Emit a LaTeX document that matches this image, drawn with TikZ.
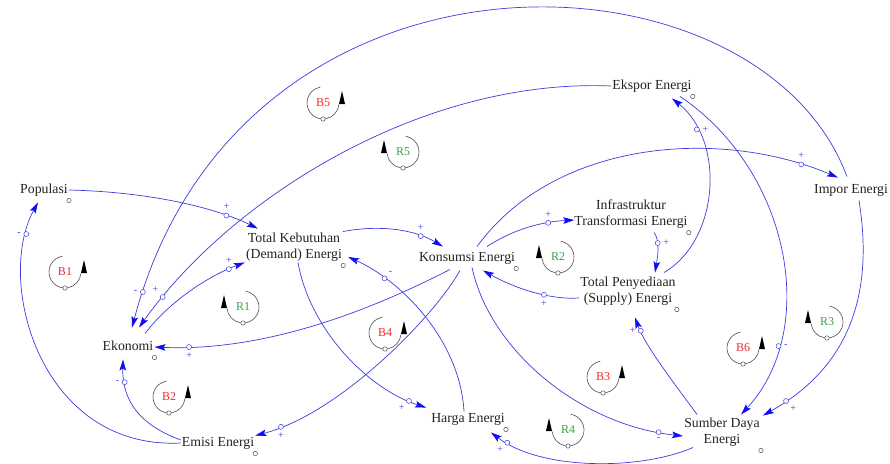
\documentclass[tikz,border=0pt]{standalone}
\usepackage{fontspec}
\setmainfont{Liberation Serif}
\usepackage{tikz}
\usetikzlibrary{arrows.meta,calc}
\definecolor{linkBlue}{RGB}{60,60,225}
\definecolor{tipBlue}{RGB}{15,15,240}
\definecolor{loopRed}{RGB}{235,45,45}
\definecolor{loopGreen}{RGB}{60,160,70}
\definecolor{loopGray}{RGB}{80,80,80}
\definecolor{varText}{RGB}{35,35,35}

\begin{document}
\begin{tikzpicture}[x=1pt,y=-1pt,
    var/.style={font=\fontsize{13.8}{16}\selectfont, text=varText, inner sep=1pt, text height=9.5pt, text depth=3pt},
    varm/.style={font=\fontsize{13.8}{16}\selectfont, text=varText, inner sep=1pt, align=center},
    lnk/.style={draw=linkBlue, line width=0.7pt, -{Stealth[length=11pt,width=6.5pt,inset=2pt,color=tipBlue]}},
    hnd/.style={circle, draw=linkBlue, fill=white, line width=0.5pt, inner sep=0pt, minimum size=5pt},
    sgn/.style={font=\fontsize{10}{10}\selectfont, text=linkBlue, inner sep=1pt},
    vdot/.style={draw=loopGray, fill=white, line width=0.5pt},
    loopc/.style={draw=loopGray, line width=0.6pt},
    looplbl/.style={font=\fontsize{12}{12}\selectfont, inner sep=0pt},
    label distance=1.5pt]
  \useasboundingbox (0,0) rectangle (890,463);
  \fill[white] (0,0) rectangle (890,463);

  % Variables
  \node[var] (pop) at (44,190) {Populasi};
  \node[varm] (tke) at (294,247) {Total Kebutuhan\\(Demand) Energi};
  \node[var] (kons) at (467,258) {Konsumsi Energi};
  \node[varm] (infra) at (631,214) {Infrastruktur\\Transformasi Energi};
  \node[varm] (tpe) at (628,291) {Total Penyediaan\\(Supply) Energi};
  \node[var] (ekspor) at (652,86) {Ekspor Energi};
  \node[var] (impor) at (851,190) {Impor Energi};
  \node[var] (ekon) at (128,347) {Ekonomi};
  \node[var] (emisi) at (218,443) {Emisi Energi};
  \node[var] (harga) at (468,419) {Harga Energi};
  \node[varm] (sumber) at (722,432) {Sumber Daya\\Energi};

  % Small markers beside the variable names
  \foreach \v in {pop,tke,kons,infra,tpe,ekspor,ekon,emisi,harga,sumber}
    \draw[vdot] ([shift={(0,3)}]\v.south east) circle (2.2);

  % Causal links
  \draw[lnk] (pop.east) .. controls +(81,2) and +(-43,-21) .. ([shift={(13,-3)}]tke.north west)
    node[hnd,pos=.78,label={[sgn]above:+}] (h1) {};
  \draw[lnk] (emisi.west) .. controls +(-141,7) and +(-43,78) .. ([shift={(-6,5)}]pop.south)
    node[hnd,pos=.88,label={[sgn]left:-}] (h2) {};
  \draw[lnk] ([shift={(0,-3)}]emisi.west) .. controls +(-41,-15) and +(-1,41) .. ([shift={(-5,5)}]ekon.south)
    node[hnd,pos=.8,label={[sgn]left:-}] (h3) {};
  \draw[lnk] ([shift={(-7,5)}]kons.south) .. controls +(-25,45) and +(85,-22) .. (emisi.north east)
    node[hnd,pos=.9,label={[sgn]below:+}] (h4) {};
  \draw[lnk] ([shift={(-17,4)}]kons.south) .. controls +(-70,36) and +(116,5) .. (ekon.east)
    node[hnd,pos=.9,label={[sgn]below:+}] (h5) {};
  \draw[lnk] ([shift={(17,-6)}]ekon.north) .. controls +(25,-33) and +(-35,13) .. (tke.south west)
    node[hnd,pos=.85,label={[sgn]above:+}] (h6) {};
  \draw[lnk] ([shift={(34,-6)}]impor.north west) .. controls +(-88,-237) and +(108,-408) .. ([shift={(4,-12)}]ekon.north)
    node[hnd,pos=.97,label={[sgn]left:-}] (h7) {};
  \draw[lnk] (ekspor.west) .. controls +(-191,-8) and +(91,-128) .. ([shift={(11,-12)}]ekon.north)
    node[hnd,pos=.92,label={[sgn]above left:+}] (h8) {};
  \draw[lnk] (tke.north east) .. controls +(37,-7) and +(-28,-17) .. ([shift={(25,-4)}]kons.north west)
    node[hnd,pos=.75,label={[sgn]above:+}] (h9) {};
  \draw[lnk] ([shift={(-4,0)}]harga.north) .. controls +(-4,-72) and +(52,23) .. ([shift={(5,10)}]tke.east)
    node[hnd,pos=.77,label={[sgn]above right:-}] (h10) {};
  \draw[lnk] ([shift={(4,0)}]tke.south) .. controls +(12,68) and +(-57,-18) .. ([shift={(-4,-4)}]harga.north west)
    node[hnd,pos=.9,label={[sgn]below left:+}] (h11) {};
  \draw[lnk] ([shift={(10,0)}]sumber.south west) .. controls +(-53,23) and +(50,38) .. ([shift={(-15,6)}]harga.south east)
    node[hnd,pos=.9,label={[sgn]below left:+}] (h12) {};
  \draw[lnk] ([shift={(5,2)}]kons.south) .. controls +(18,83) and +(-103,-11) .. ([shift={(0,4)}]sumber.west)
    node[hnd,pos=.92,label={[sgn]below:-}] (h13) {};
  \draw[lnk] ([shift={(14,-2)}]sumber.north west) .. controls +(-22,-30) and +(10,28) .. ([shift={(7,11)}]tpe.south)
    node[hnd,pos=.85,label={[sgn]left:+}] (h14) {};
  \draw[lnk] ([shift={(0,7)}]tpe.west) .. controls +(-29,2) and +(32,18) .. ([shift={(16,5)}]kons.south)
    node[hnd,pos=.38,label={[sgn]below:+}] (h15) {};
  \draw[lnk] ([shift={(20,-4)}]kons.north) .. controls +(23,-15) and +(-37,2) .. ([shift={(1,6)}]infra.west)
    node[hnd,pos=.75,label={[sgn]above:+}] (h16) {};
  \draw[lnk] ([shift={(10,-4)}]kons.north) .. controls +(78,-107) and +(-118,-50) .. ([shift={(25,-5)}]impor.north west)
    node[hnd,pos=.9,label={[sgn]above:+}] (h17) {};
  \draw[lnk] ([shift={(23,3)}]infra.south) .. controls +(6,8) and +(3,-18) .. ([shift={(27,-3)}]tpe.north)
    node[hnd,pos=.35,label={[sgn]right:+}] (h18) {};
  \draw[lnk] ([shift={(36,-3)}]tpe.north) .. controls +(56,-33) and +(53,42) .. ([shift={(20,5)}]ekspor.south)
    node[hnd,pos=.8,label={[sgn]right:+}] (h19) {};
  \draw[lnk] ([shift={(28,3)}]ekspor.south) .. controls +(110,74) and +(79,-85) .. ([shift={(19,-2)}]sumber.north)
    node[hnd,pos=.77,label={[sgn]right:-}] (h20) {};
  \draw[lnk] ([shift={(8,3)}]impor.south) .. controls +(16,100) and +(82,-46) .. ([shift={(2,-1)}]sumber.north east)
    node[hnd,pos=.9,label={[sgn]below right:+}] (h21) {};

  % Loop symbols (B: arrow on the right, R: arrow on the left)
  \foreach \nm/\px/\py/\clr/\sa/\ea/\dx in {B1/65/272/loopRed/-100/-355/19, R1/243/307/loopGreen/-80/175/-19,
      B2/169/397/loopRed/-100/-355/19, B4/385/333/loopRed/-100/-355/19, R2/558/257/loopGreen/-80/175/-19,
      B3/603/377/loopRed/-100/-355/19, R4/568/430/loopGreen/-80/175/-19, B6/743/348/loopRed/-100/-355/19,
      R3/827/322/loopGreen/-80/175/-19, B5/323/103/loopRed/-100/-355/19, R5/403/152/loopGreen/-80/175/-19}{
    \draw[loopc] (\px,\py) ++(\sa:16) arc[start angle=\sa, end angle=\ea, radius=16];
    \fill[black] (\px+\dx-3,\py+1) -- (\px+\dx+3,\py+1) -- (\px+\dx,\py-12) -- cycle;
    \draw[vdot] (\px,\py+16) circle (2.2);
    \node[looplbl, text=\clr] (lp\nm) at (\px,\py) {\nm};
  }
\end{tikzpicture}
\end{document}
